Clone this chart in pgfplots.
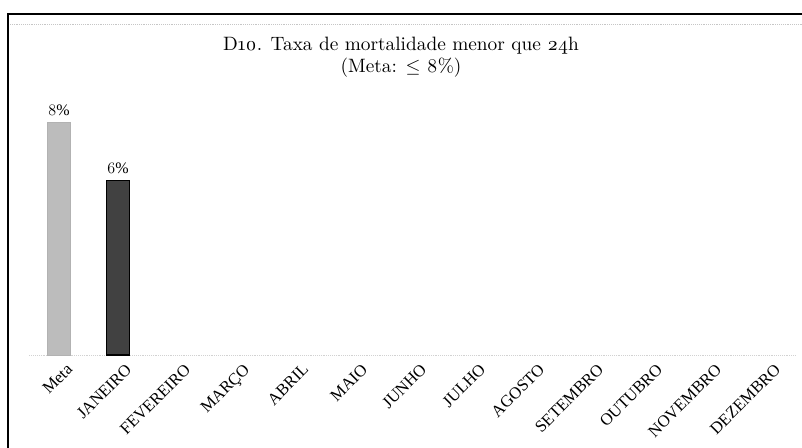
\documentclass[border=0pt]{standalone}
\usepackage{fontspec}
\setmainfont{Liberation Serif}
\newfontfamily\titlefont{lmroman10-regular}[Extension=.otf, Numbers=OldStyle]
\usepackage{pgfplots}
\pgfplotsset{compat=1.18}
\definecolor{metagray}{RGB}{188,188,188}
\definecolor{jangray}{RGB}{65,65,65}
\begin{document}
\begin{tikzpicture}
\path[use as bounding box] (0pt,0pt) rectangle (601.5pt,336pt);
\draw[line width=1.6pt] (6pt,-10pt) -- (6pt,325.5pt) -- (610pt,325.5pt);
\draw[gray!45, densely dotted] (7.5pt,318pt) -- (601.5pt,318pt);
\node[font=\titlefont\fontsize{14.5}{17}\selectfont, align=center] at (300.75pt,293pt)
  {D10. Taxa de mortalidade menor que 24h\\(Meta: $\leq$ 8\%)};
\begin{axis}[
  at={(22.125pt,69.75pt)}, anchor=south west,
  scale only axis, width=575.25pt, height=196.5pt,
  xmin=-0.5, xmax=12.5, ymin=0, ymax=9,
  axis y line=none,
  axis x line*=bottom,
  x axis line style={gray!35, densely dotted, -},
  xtick={0,...,12},
  xticklabels={Meta,JANEIRO,FEVEREIRO,MAR\c{C}O,ABRIL,MAIO,JUNHO,JULHO,AGOSTO,SETEMBRO,OUTUBRO,NOVEMBRO,DEZEMBRO},
  major tick length=0pt,
  xticklabel style={font=\fontsize{12.5}{13}\selectfont, rotate=45, anchor=north east, inner sep=0pt, xshift=-0.5pt, yshift=-7.5pt},
  bar width=17pt,
  nodes near coords={\pgfmathprintnumber{\pgfplotspointmeta}\%},
  every node near coord/.append style={font=\fontsize{12}{13}\selectfont, yshift=1pt},
  clip=false,
]
\addplot[ybar, bar shift=0pt, fill=metagray, draw=gray!60] coordinates {(0,8)};
\addplot[ybar, bar shift=0pt, fill=jangray, draw=black, line width=0.8pt] coordinates {(1,6)};
\end{axis}
\end{tikzpicture}
\end{document}
